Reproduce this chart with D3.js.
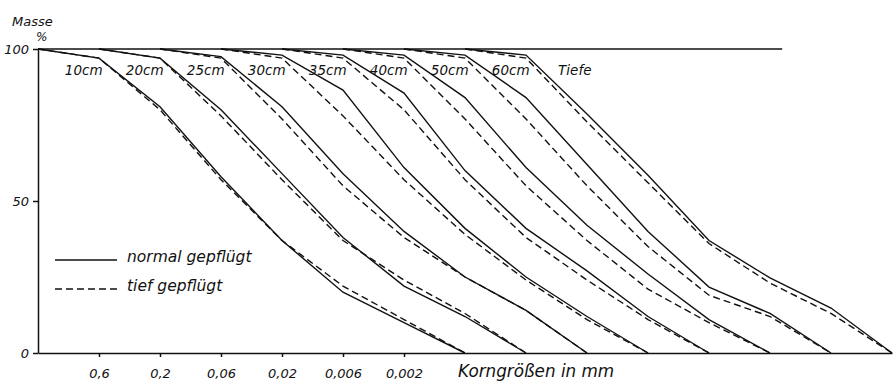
<!DOCTYPE html>
<html>
<head>
<meta charset="utf-8">
<script src="https://cdn.jsdelivr.net/npm/d3@7"></script>
<style>
  body { margin: 0; background: #fff; }
  svg text { font-family: "DejaVu Sans", sans-serif; font-style: italic; fill: #111; }
</style>
</head>
<body>
<svg width="894" height="383"></svg>
<script>
// depth of each curve, every curve is shifted one size class to the right
var depths = ["10cm", "20cm", "25cm", "30cm", "35cm", "40cm", "50cm", "60cm"];
var sizeTicks = ["0,6", "0,2", "0,06", "0,02", "0,006", "0,002"];
var yTicks = [0, 50, 100];

// Masse % at size classes 0..7 (2 mm ... < 0,0006 mm)
var normal = [
    [100, 97, 81, 58, 37, 20, 10, 0],
    [100, 97, 80, 59, 38, 22, 12, 0],
    [100, 97.5, 81, 59, 40, 25, 14, 0],
    [100, 98, 86.5, 61, 41, 25, 12, 0],
    [100, 98, 85.5, 60, 41, 27, 12, 0],
    [100, 98, 84, 61, 42, 26, 11, 0],
    [100, 98, 84, 62, 40, 21.7, 13, 0],
    [100, 98, 78.6, 58.5, 37, 24.7, 14.8, 0]
];
var tief = [
    [100, 97, 80, 57, 37, 22, 11, 0],
    [100, 97, 78, 57, 37, 24, 13, 0],
    [100, 97, 77, 55, 38, 25, 14, 0],
    [100, 97, 78, 57, 39, 24, 11, 0],
    [100, 97, 80, 57, 38, 24, 11, 0],
    [100, 97, 77, 55, 37, 21, 10, 0],
    [100, 97, 77, 55, 35, 19, 12, 0],
    [100, 97, 76, 56, 36, 23, 13, 0]
];

var svg = d3.select("svg");

var x = d3.scaleLinear().domain([0, 14]).range([38, 892]);
var y = d3.scaleLinear().domain([0, 100]).range([353, 49]);

function createG(node, name) {
    return node.append("g").attr("class", name);
}

var axesG = createG(svg, "axesG");
var linesG = createG(svg, "linesG");
var textG = createG(svg, "textG");

// y axis
var yAxis = axesG.append("g")
    .attr("transform", "translate(" + x(0) + ",0)")
    .call(d3.axisLeft(y).tickValues(yTicks).tickSize(5).tickSizeOuter(0).tickPadding(4));
yAxis.selectAll("text").style("font-size", "13px");

// x axis
var xAxis = axesG.append("g")
    .attr("transform", "translate(0," + y(0) + ")")
    .call(d3.axisBottom(x)
        .tickValues(d3.range(1, sizeTicks.length + 1))
        .tickFormat(function(d) { return sizeTicks[d - 1]; })
        .tickSize(4).tickSizeOuter(0).tickPadding(12));
xAxis.selectAll("text").style("font-size", "13px");

axesG.selectAll(".domain, .tick line").attr("stroke", "#111").attr("stroke-width", 1.5);
axesG.selectAll("text").attr("fill", "#111").style("font-family", "DejaVu Sans, sans-serif").style("font-style", "italic");

// 100 % line along the top
axesG.append("line")
    .attr("x1", x(0)).attr("x2", x(12.2))
    .attr("y1", y(100)).attr("y2", y(100))
    .attr("stroke", "#111").attr("stroke-width", 1.5);

var line = d3.line()
    .x(function(d) { return x(d[0]); })
    .y(function(d) { return y(d[1]); });

function curvePoints(values, shift) {
    return values.map(function(v, k) { return [k + shift, v]; });
}

depths.forEach(function(depth, i) {
    linesG.append("path")
        .attr("d", line(curvePoints(normal[i], i)))
        .attr("fill", "none")
        .attr("stroke", "#111")
        .attr("stroke-width", 1.4);
    linesG.append("path")
        .attr("d", line(curvePoints(tief[i], i)))
        .attr("fill", "none")
        .attr("stroke", "#111")
        .attr("stroke-width", 1.4)
        .attr("stroke-dasharray", "7,4");

    textG.append("text")
        .attr("x", x(i + 0.75))
        .attr("y", 75)
        .attr("text-anchor", "middle")
        .style("font-size", "13.5px")
        .text(depth);
});

textG.append("text")
    .attr("x", x(depths.length + 0.8))
    .attr("y", 75)
    .attr("text-anchor", "middle")
    .style("font-size", "13.5px")
    .text("Tiefe");

// axis titles
textG.append("text").attr("x", 12).attr("y", 26).style("font-size", "13px").text("Masse");
textG.append("text").attr("x", 36).attr("y", 41).style("font-size", "12px").text("%");
textG.append("text").attr("x", 458).attr("y", 377).style("font-size", "16.8px").text("Korngrößen in mm");

// legend
var legend = [
    { label: "normal gepflügt", dash: null, y: 260 },
    { label: "tief gepflügt", dash: "7,4", y: 289 }
];
var legendG = createG(svg, "legendG");
legend.forEach(function(l) {
    legendG.append("line")
        .attr("x1", 55).attr("x2", 117)
        .attr("y1", l.y).attr("y2", l.y)
        .attr("stroke", "#111").attr("stroke-width", 1.4)
        .attr("stroke-dasharray", l.dash);
    legendG.append("text")
        .attr("x", 127).attr("y", l.y + 2)
        .style("font-size", "15.5px")
        .text(l.label);
});
</script>
</body>
</html>
